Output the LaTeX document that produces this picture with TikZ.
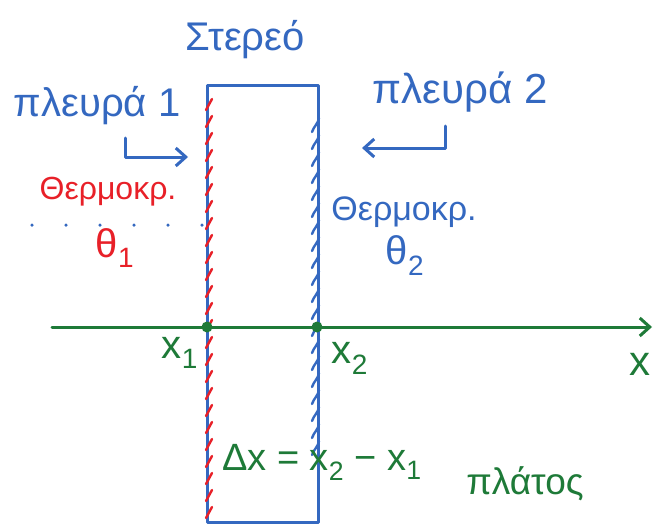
\documentclass[tikz,border=0pt]{standalone}
\usepackage{fontspec}
\setmainfont{Liberation Sans}
\usetikzlibrary{arrows.meta, positioning, calc}
\definecolor{SkBlue}{RGB}{52, 104, 192}
\definecolor{SkRed}{RGB}{232, 32, 40}
\definecolor{SkGreen}{RGB}{30, 122, 56}

\tikzset{
  pen/.style={line width=3pt, line cap=round, line join=round},
  hand/.style={inner sep=0pt, font=\fontsize{#1}{#1}\selectfont},
  redhatch/.style={pen, SkRed, line width=2.4pt},
  bluehatch/.style={pen, SkBlue, line width=2.4pt},
  pointer/.style={pen, SkBlue, -{Straight Barb[length=10pt, width=18pt, line width=3pt]}},
  dot/.style={circle, fill=SkGreen, inner sep=0pt, minimum size=11pt}
}

\begin{document}
\begin{tikzpicture}[x=1pt, y=-1pt]
  \useasboundingbox[fill=white] (0,0) rectangle (670,530);

  % the solid slab
  \node[draw=SkBlue, pen, minimum width=111pt, minimum height=437pt, inner sep=0pt] (slab) at (262.5,303.5) {};
  \node[hand=40, SkBlue] (title) at (245,40) {Στερεό};

  % hatched faces
  \foreach \y in {110,127,...,524}
    \draw[redhatch] (206,\y) -- ++(6,-11);
  \foreach \y in {132,149,...,456}
    \draw[bluehatch] (312,\y) .. controls (314,\y-6) and (318,\y-8) .. ++(7,-14);

  % side labels
  \node[hand=40, SkBlue] (side1) at (97,106) {πλευρά 1};
  \node[hand=42, SkBlue] (side2) at (460,92) {πλευρά 2};
  \coordinate (s1from) at (125,138);
  \coordinate (s1to) at (188,157);
  \coordinate (s2from) at (445,126);
  \coordinate (s2to) at (362,148);
  \draw[pointer] (s1from) |- (s1to);
  \draw[pointer] (s2from) |- (s2to);

  % temperatures
  \node[hand=32, SkRed] (temp1) at (108,192) {Θερμοκρ.};
  \node[hand=40, SkRed] (th1) at (115,248) {θ\textsubscript{1}};
  \node[hand=34, SkBlue] (temp2) at (404,212) {Θερμοκρ.};
  \node[hand=40, SkBlue] (th2) at (405,256) {θ\textsubscript{2}};
  \coordinate (dotsL) at (32,225);
  \coordinate (dotsR) at (202,225);
  \draw[SkBlue, line width=3.5pt, line cap=round, dash pattern=on 0pt off 34pt] (dotsL) -- (dotsR);

  % x axis
  \coordinate (axstart) at (52,327);
  \coordinate (axend) at (652,327);
  \draw[pen, SkGreen, -{Straight Barb[length=10pt, width=18pt, line width=3pt]}] (axstart) -- (axend);
  \node[dot] (p1) at (207,327) {};
  \node[dot] (p2) at (317,327) {};
  \node[hand=40, SkGreen] (x1) at (180,353) {x\textsubscript{1}};
  \node[hand=40, SkGreen] (x2) at (350,358) {x\textsubscript{2}};
  \node[hand=42, SkGreen] (xaxis) at (640,364) {x};

  % width
  \node[hand=38, SkGreen] (dx) at (322,462) {Δx = x\textsubscript{2} − x\textsubscript{1}};
  \node[hand=37, SkGreen] (width) at (525,484) {πλάτος};
\end{tikzpicture}
\end{document}
